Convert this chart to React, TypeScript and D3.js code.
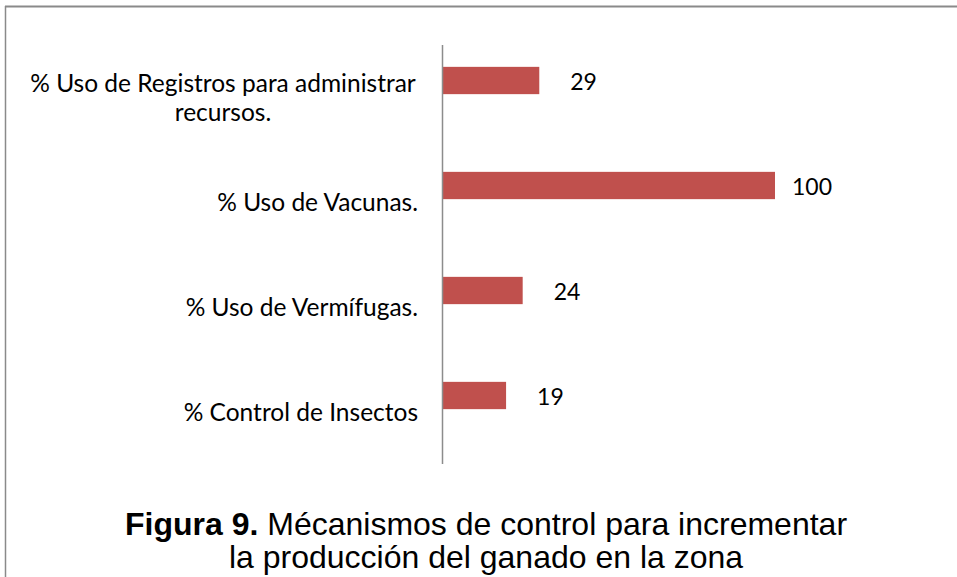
import React from "react";
import * as d3 from "d3";

// categories top to bottom, one label line per entry
const categories = [
  ["% Uso de Registros para administrar", "recursos."],
  ["% Uso de Vacunas."],
  ["% Uso de Vermífugas."],
  ["% Control de Insectos"],
];
const values = [29, 100, 24, 19];
const titleBold = "Figura 9.";
const titleLine1 = " Mécanismos de control para incrementar";
const titleLine2 = "la producción del ganado en la zona";

const W = 957;
const H = 577;

export default function App() {
  const keys = categories.map((c) => c.join(" "));

  const y = d3
    .scaleBand<string>()
    .domain(keys)
    .range([28, 448])
    .paddingInner(0.74)
    .paddingOuter(0.37);

  const x = d3.scaleLinear().domain([0, 100]).range([443, 775]);

  const labelFont = "Lato, 'Open Sans', sans-serif";
  const capFont = "'Liberation Sans', Arial, sans-serif";

  return (
    <svg
      width={W}
      height={H}
      style={{ position: "absolute", left: 0, top: 0, background: "#fff" }}
    >
      {/* frame */}
      <line x1={5} x2={W} y1={6.5} y2={6.5} stroke="#8a8a8a" strokeWidth={2} />
      <line x1={5.5} x2={5.5} y1={6} y2={H} stroke="#8a8a8a" strokeWidth={1.5} />

      {/* bars */}
      {values.map((v, i) => (
        <rect
          key={keys[i]}
          x={x(0)}
          y={y(keys[i])}
          width={x(v) - x(0)}
          height={y.bandwidth()}
          fill="#C0504D"
        />
      ))}

      {/* category axis */}
      <line x1={442.5} x2={442.5} y1={45} y2={464} stroke="#8c8c8c" strokeWidth={1.5} />

      {/* category labels */}
      {categories.map((lines, i) => {
        const cy = (y(keys[i]) as number) + y.bandwidth() / 2;
        const multi = lines.length > 1;
        return (
          <text key={keys[i]} fontFamily={labelFont} fontSize={24.5} fill="#000">
            {lines.map((l, j) => (
              <tspan
                key={j}
                x={multi ? 223 : 418}
                textAnchor={multi ? "middle" : "end"}
                y={(multi ? cy + 11 : cy + 25) + j * 29}
              >
                {l}
              </tspan>
            ))}
          </text>
        );
      })}

      {/* value labels */}
      {values.map((v, i) => (
        <text
          key={keys[i]}
          x={x(v) + (v >= 100 ? 17 : 31)}
          y={(y(keys[i]) as number) + y.bandwidth() / 2 + 9}
          fontFamily={labelFont}
          fontSize={23}
          fill="#000"
        >
          {v}
        </text>
      ))}

      {/* caption */}
      <text x={486} y={535} textAnchor="middle" fontFamily={capFont} fontSize={32} fill="#000">
        <tspan fontWeight="bold">{titleBold}</tspan>
        <tspan>{titleLine1}</tspan>
      </text>
      <text x={486} y={568} textAnchor="middle" fontFamily={capFont} fontSize={32} fill="#000">
        {titleLine2}
      </text>
    </svg>
  );
}
